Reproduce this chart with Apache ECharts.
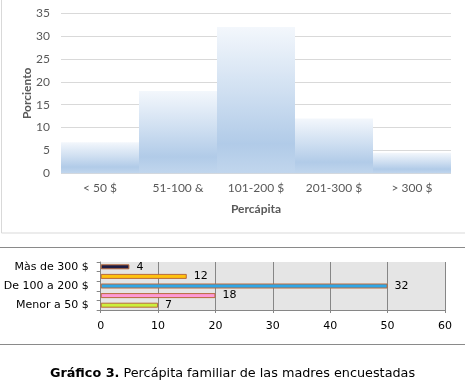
<!DOCTYPE html>
<html><head><meta charset="utf-8">
<script src="https://cdn.jsdelivr.net/npm/echarts@6/dist/echarts.min.js"></script>
<style>html,body{margin:0;padding:0;background:#fff}#c{width:465px;height:382px}</style>
</head><body><div id="c"></div>
<script>
// Top histogram
const histCategories = ['< 50 $', '51-100 &', '101-200 $', '201-300 $', '> 300 $'];
const histValues = [6.8, 18, 32, 12, 4.5];
const histTicks = [0, 5, 10, 15, 20, 25, 30, 35];
// Bottom bar chart (bottom to top)
const barCategories = ['Menor a 50 $', 'De 50 a 100 $', 'De 100 a 200 $', 'De 200 a 300 $', 'Màs de 300 $'];
const barLengths = [10, 20, 50, 15, 5];
const barLabels = ['7', '18', '32', '12', '4'];
const barColors = ['#ccf03c', '#ff99d8', '#2fa7e8', '#ffc20e', '#1c1c44'];
const barTicks = [0, 10, 20, 30, 40, 50, 60];

const chart = echarts.init(document.getElementById('c'));
const grad = new echarts.graphic.LinearGradient(0, 0, 0, 1, [
  {offset: 0, color: '#f3f7fc'},
  {offset: 0.45, color: '#cfdff1'},
  {offset: 0.8, color: '#b1cbe8'},
  {offset: 1, color: '#c1d6ed'}
]);
chart.setOption({
  animation: false,
  title: {
    text: '{b|Gráfico 3.} Percápita familiar de las madres encuestadas',
    left: 'center', top: 362,
    textStyle: {fontFamily: 'DejaVu Sans', fontSize: 12.8, fontWeight: 'normal', color: '#000',
      rich: {b: {fontFamily: 'DejaVu Sans', fontSize: 12.8, fontWeight: 'bold', color: '#000'}}}
  },
  graphic: [
    {type: 'rect', shape: {x: 1.5, y: -2, width: 470, height: 235}, style: {fill: 'none', stroke: '#d9d9d9', lineWidth: 1}, z: -1},
    {type: 'line', shape: {x1: 0, y1: 247.5, x2: 465, y2: 247.5}, style: {stroke: '#8a8a8a', lineWidth: 1}},
    {type: 'line', shape: {x1: 0, y1: 344.5, x2: 465, y2: 344.5}, style: {stroke: '#8a8a8a', lineWidth: 1}}
  ],
  grid: [
    {left: 61, right: 14, top: 13.3, height: 160},
    {left: 100.7, right: 20, top: 262, height: 48, backgroundColor: '#e5e5e5', show: true, borderWidth: 0}
  ],
  xAxis: [
    {type: 'category', gridIndex: 0, data: histCategories,
     axisLine: {show: false}, axisTick: {show: false},
     axisLabel: {color: '#595959', fontFamily: 'Lato', fontSize: 12, margin: 9},
     name: 'Percápita', nameLocation: 'middle', nameGap: 30, nameMoveOverlap: false,
     nameTextStyle: {color: '#595959', fontFamily: 'Lato', fontSize: 12, fontWeight: 'bold'}},
    {type: 'value', gridIndex: 1, min: barTicks[0], max: barTicks[barTicks.length - 1], interval: 10,
     axisLine: {show: true, lineStyle: {color: '#868686'}},
     axisTick: {show: true, length: 3, lineStyle: {color: '#868686'}},
     splitLine: {show: true, lineStyle: {color: '#868686'}},
     axisLabel: {color: '#000', fontFamily: 'DejaVu Sans', fontSize: 11, margin: 11}}
  ],
  yAxis: [
    {type: 'value', gridIndex: 0, min: histTicks[0], max: histTicks[histTicks.length - 1], interval: 5,
     axisLine: {show: false}, axisTick: {show: false},
     splitLine: {lineStyle: {color: '#d9d9d9'}},
     axisLabel: {color: '#595959', fontFamily: 'Lato', fontSize: 12, margin: 11},
     name: 'Porciento', nameLocation: 'middle', nameGap: 28, nameRotate: 90, nameMoveOverlap: false,
     nameTextStyle: {color: '#595959', fontFamily: 'Lato', fontSize: 12, fontWeight: 'bold'}},
    {type: 'category', gridIndex: 1, data: barCategories,
     axisLine: {show: true, lineStyle: {color: '#868686'}},
     axisTick: {show: true, interval: 0, length: 4, lineStyle: {color: '#868686'}},
     axisLabel: {interval: 1, color: '#000', fontFamily: 'DejaVu Sans', fontSize: 11, margin: 12}}
  ],
  series: [
    {type: 'bar', xAxisIndex: 0, yAxisIndex: 0, data: histValues, barCategoryGap: '0%',
     itemStyle: {color: grad}},
    {type: 'bar', xAxisIndex: 1, yAxisIndex: 1, barWidth: 5,
     data: barLengths.map((v, i) => ({value: v, itemStyle: {color: barColors[i]}})),
     itemStyle: {borderColor: '#b86a3c', borderWidth: 1},
     label: {show: true, position: 'right', distance: 7, color: '#000', fontFamily: 'DejaVu Sans', fontSize: 11,
       formatter: p => barLabels[p.dataIndex]}}
  ]
});
</script></body></html>
